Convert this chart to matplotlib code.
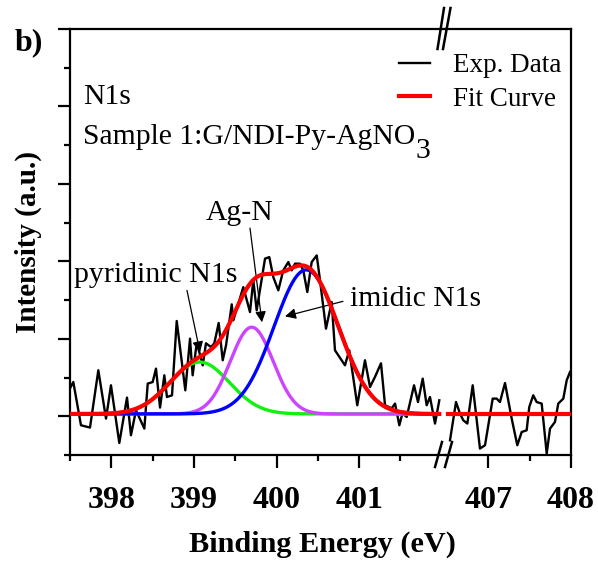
import numpy as np
import matplotlib
matplotlib.use("Agg")
import matplotlib.pyplot as plt
from matplotlib.lines import Line2D
from matplotlib.ticker import FixedLocator, NullFormatter

plt.rcParams['font.family'] = ['Liberation Serif', 'DejaVu Serif']

# ---- N1s experimental spectrum (binding energy in eV, intensity in a.u.) ----
energy_low = [397.500, 397.540, 397.633, 397.742, 397.843, 397.936, 397.996, 398.097,
              398.190, 398.238, 398.299, 398.400, 398.441, 398.501, 398.541, 398.590,
              398.642, 398.674, 398.735, 398.792, 398.896, 398.953, 398.985, 399.034,
              399.065, 399.107, 399.146, 399.207, 399.247, 399.300, 399.349, 399.389,
              399.458, 399.477, 399.598, 399.679, 399.719, 399.760, 399.861, 399.913,
              399.961, 400.022, 400.082, 400.143, 400.184, 400.224, 400.284, 400.324,
              400.373, 400.426, 400.487, 400.527, 400.599, 400.668, 400.708, 400.829,
              400.881, 400.978, 401.071, 401.132, 401.192, 401.265, 401.314, 401.395,
              401.435, 401.487, 401.525, 401.576, 401.665, 401.713, 401.770, 401.818,
              401.858, 401.919, 401.971]
intensity_low = [0.361, 0.442, -0.116, -0.146, 0.594, -0.030, 0.400, -0.345,
                 0.241, -0.245, 0.077, -0.159, 0.422, 0.442, 0.615, 0.112,
                 0.529, 0.249, 0.271, 1.230, 0.335, 1.002, 0.529, 0.946,
                 0.830, 0.658, 0.942, 0.894, 0.942, 1.204, 0.723, 0.916,
                 1.445, 1.239, 1.667, 1.346, 1.755, 1.368, 2.035, 2.055,
                 1.797, 1.626, 1.884, 1.991, 1.884, 1.970, 1.970, 1.884,
                 1.604, 1.991, 2.077, 1.755, 1.131, 1.475, 0.852, 0.658,
                 0.852, 0.142, 0.723, 0.378, 0.507, 0.684, 0.142, 0.103,
                 0.164, -0.116, 0.039, -0.009, 0.400, 0.184, 0.486, 0.142,
                 0.249, -0.094, 0.206]

energy_high = [406.535, 406.608, 406.656, 406.696, 406.745, 406.810, 406.898, 406.959,
               407.052, 407.100, 407.140, 407.201, 407.282, 407.350, 407.403, 407.463,
               407.495, 407.543, 407.584, 407.645, 407.706, 407.746, 407.806, 407.846,
               407.907, 407.948, 407.988]
intensity_high = [-0.310, 0.184, 0.035, -0.052, -0.094, 0.400, -0.417, -0.374,
                  0.228, 0.228, 0.184, 0.429, -0.030, -0.374, -0.203, -0.181,
                  0.120, 0.271, 0.184, 0.164, -0.481, -0.159, -0.073, 0.164,
                  0.228, 0.465, 0.572]

# ---- Gaussian fit components: pyridinic, Ag-N, imidic ----
peak_names = ["pyridinic N1s", "Ag-N", "imidic N1s"]
peak_centers = [399.07, 399.70, 400.36]
peak_heights = [0.67, 1.12, 1.86]
peak_sigmas = [0.36, 0.26, 0.39]
peak_colors = ["#11f011", "#cc44ff", "#0000ff"]
fit_baseline = 0.03

low_range = (397.5, 401.97)
high_range = (406.51, 408.0)

W, H = 598, 565
fig = plt.figure(figsize=(W / 100, H / 100), dpi=100)


def px_rect(x0, y0, x1, y1):
    return [x0 / W, 1 - y1 / H, (x1 - x0) / W, (y1 - y0) / H]


axL = fig.add_axes(px_rect(70, 29, 445, 455))
axR = fig.add_axes(px_rect(445, 29, 571, 455), sharey=axL)
axR.patch.set_visible(False)

px_per_ev = 82.6
axL.set_xlim(397.5, 397.5 + 375 / px_per_ev)
axR.set_xlim(408.0 - 126 / px_per_ev, 408.0)
axL.set_ylim(-0.5, 5.0)


def gauss(x, c, h, s):
    return h * np.exp(-0.5 * ((x - c) / s) ** 2)


# experimental data
axL.plot(energy_low, intensity_low, color="black", lw=1.7, zorder=2)
axR.plot(energy_high, intensity_high, color="black", lw=1.7, zorder=2)

# components and envelope
xl = np.linspace(*low_range, 600)
xh = np.linspace(*high_range, 200)
total_l = np.full_like(xl, fit_baseline)
total_h = np.full_like(xh, fit_baseline)
for c, h, s, col in zip(peak_centers, peak_heights, peak_sigmas, peak_colors):
    comp = gauss(xl, c, h, s)
    total_l += comp
    total_h += gauss(xh, c, h, s)
    axL.plot(xl, comp + fit_baseline, color=col, lw=2.4, zorder=3)
axL.plot(xl, total_l, color="#ff0000", lw=3.0, zorder=4)
axR.plot(xh, total_h, color="#ff0000", lw=3.0, zorder=4)

# spines and ticks
for ax in (axL, axR):
    for sp in ax.spines.values():
        sp.set_linewidth(1.6)
axL.spines["right"].set_visible(False)
axR.spines["left"].set_visible(False)

axL.xaxis.set_major_locator(FixedLocator([398, 399, 400, 401]))
axL.xaxis.set_minor_locator(FixedLocator([397.5, 398.5, 399.5, 400.5, 401.5]))
axR.xaxis.set_major_locator(FixedLocator([407, 408]))
axR.xaxis.set_minor_locator(FixedLocator([407.5]))
axL.yaxis.set_major_locator(FixedLocator([0, 1, 2, 3, 4, 5]))
axL.yaxis.set_minor_locator(FixedLocator([-0.5, 0.5, 1.5, 2.5, 3.5, 4.5]))
axL.yaxis.set_major_formatter(NullFormatter())

for ax in (axL, axR):
    ax.tick_params(axis="x", which="major", direction="out", length=9, width=1.6, pad=13)
    ax.tick_params(axis="x", which="minor", direction="out", length=4.5, width=1.6)
    for lab in ax.get_xticklabels():
        lab.set_fontsize(23)
        lab.set_fontweight("bold")
axL.tick_params(axis="y", which="major", direction="out", length=9, width=1.6)
axL.tick_params(axis="y", which="minor", direction="out", length=4.5, width=1.6)
axR.tick_params(axis="y", which="both", left=False, right=False, labelleft=False)

# axis labels
axL.set_ylabel("Intensity (a.u.)", fontsize=21, fontweight="bold")
axL.yaxis.set_label_coords((42 - 70) / 375, 0.5)
fig.text(322 / W, 1 - 531 / H, "Binding Energy (eV)", fontsize=21.8, fontweight="bold",
         ha="center", va="top")
fig.text(15 / W, 1 - 28 / H, "b)", fontsize=23, fontweight="bold", ha="left", va="top")

# axis break marks
def brk(x0, y0, x1, y1):
    fig.add_artist(Line2D([x0 / W, x1 / W], [1 - y0 / H, 1 - y1 / H], color="black", lw=1.8))

brk(437.5, 49, 444, 8)
brk(443, 49, 450.5, 8)
brk(435, 467, 442, 442)
brk(445, 467, 452, 442)

# sample description
axL.text(397.657, 4.03, "N1s", fontsize=21.3, ha="left", va="baseline")
sample = axL.text(397.657, 3.52, "Sample 1:G/NDI-Py-AgNO", fontsize=21.3, ha="left",
                  va="baseline")
axL.annotate("3", xy=(1, 0), xycoords=sample, xytext=(0.5, -10), textcoords="offset points",
             fontsize=21.3, ha="left", va="bottom")

# peak labels with arrows
arrow_kw = dict(arrowstyle="-|>", color="black", lw=0.9, mutation_scale=16,
                shrinkA=0, shrinkB=0)
axL.text(399.55, 2.53, peak_names[1], fontsize=21.3, ha="center", va="baseline")
axL.annotate("", xy=(399.824, 1.213), xytext=(399.679, 2.43), arrowprops=arrow_kw)
axL.text(397.548, 1.729, peak_names[0], fontsize=21.5, ha="left", va="baseline")
axL.annotate("", xy=(399.074, 0.826), xytext=(398.916, 1.626), arrowprops=arrow_kw)
axL.text(400.89, 1.42, peak_names[2], fontsize=21.3, ha="left", va="baseline", zorder=6)
axL.annotate("", xy=(400.103, 1.29), xytext=(400.805, 1.484), arrowprops=arrow_kw)

# legend
handles = [Line2D([], [], color="black", lw=1.7), Line2D([], [], color="#ff0000", lw=3.0)]
fig.legend(handles, ["Exp. Data", "Fit Curve"], loc="upper left",
           bbox_to_anchor=(399 / W, 1 - 53 / H), frameon=False, fontsize=19.5,
           handlelength=1.15, handletextpad=0.85, labelspacing=0.32,
           borderpad=0, borderaxespad=0)

fig.savefig("out.png", dpi=100)
